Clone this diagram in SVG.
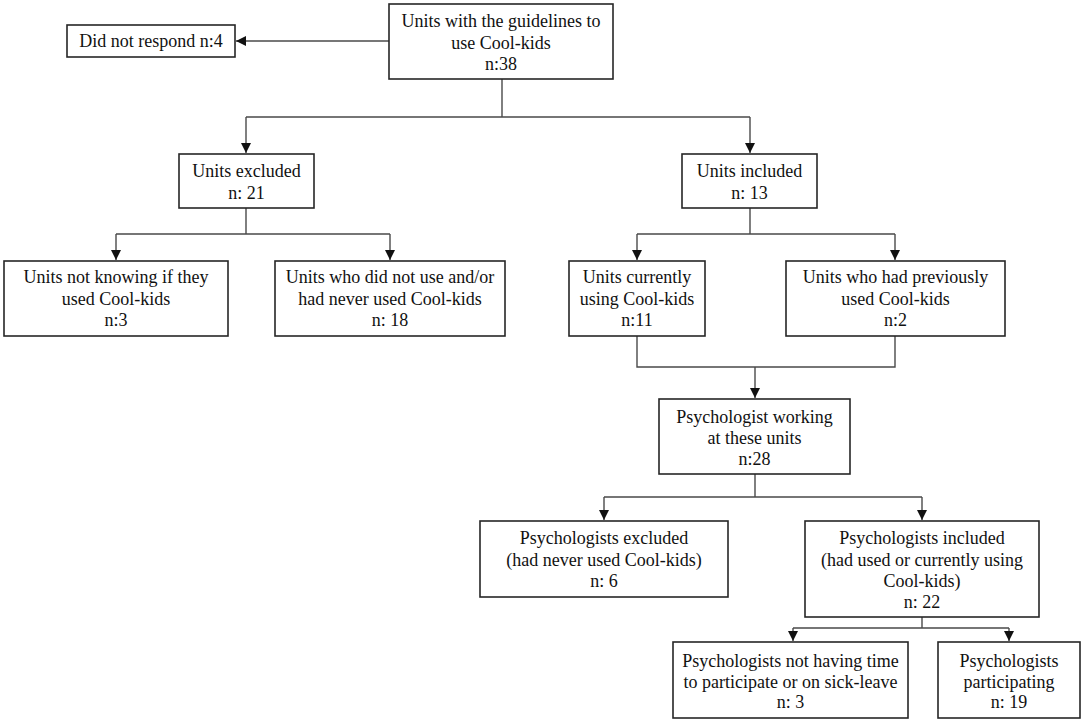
<svg xmlns="http://www.w3.org/2000/svg" width="1084" height="723" viewBox="0 0 1084 723">
<style>
.box{fill:#fff;stroke:#262626;stroke-width:1.6}
.t{font-family:'Liberation Serif','Times New Roman',Times,'DejaVu Serif',serif;font-size:18px;fill:#111;text-anchor:middle}
.c{fill:none;stroke:#4a4a4a;stroke-width:1.4}
</style>
<defs>
<marker id="ah" markerUnits="userSpaceOnUse" markerWidth="10" markerHeight="12" refX="10" refY="5" orient="auto">
<path d="M0,0 L10,5 L0,10 Z" fill="#111"/>
</marker>
</defs>
<rect width="1084" height="723" fill="#fff"/>
<g id="connectors">
<path class="c" d="M389,41 H236" marker-end="url(#ah)"/>
<path class="c" d="M502,79 V117 M246,117 H750"/>
<path class="c" d="M246,117 V153" marker-end="url(#ah)"/>
<path class="c" d="M750,117 V153" marker-end="url(#ah)"/>
<path class="c" d="M246,208 V234 M116,234 H390"/>
<path class="c" d="M116,234 V260" marker-end="url(#ah)"/>
<path class="c" d="M390,234 V260" marker-end="url(#ah)"/>
<path class="c" d="M750,208 V234 M637,234 H895"/>
<path class="c" d="M637,234 V260" marker-end="url(#ah)"/>
<path class="c" d="M895,234 V260" marker-end="url(#ah)"/>
<path class="c" d="M637,336 V367 H895 V336"/>
<path class="c" d="M755,367 V398" marker-end="url(#ah)"/>
<path class="c" d="M755,474 V497 M604,497 H922"/>
<path class="c" d="M604,497 V520" marker-end="url(#ah)"/>
<path class="c" d="M922,497 V520" marker-end="url(#ah)"/>
<path class="c" d="M922,617 V628 M793,628 H1009"/>
<path class="c" d="M793,628 V641" marker-end="url(#ah)"/>
<path class="c" d="M1009,628 V641" marker-end="url(#ah)"/>
</g>
<g font-family="'Liberation Serif', 'Times New Roman', serif">
<g id="n-top"><rect class="box" x="389" y="4" width="224" height="75"/>
<text class="t" x="501" y="27">Units with the guidelines to</text>
<text class="t" x="501" y="48.5">use Cool-kids</text>
<text class="t" x="501" y="70">n:38</text></g>
<g id="n-dnr"><rect class="box" x="67" y="25" width="168" height="32"/>
<text class="t" x="151" y="47">Did not respond n:4</text></g>
<g id="n-uexcl"><rect class="box" x="179" y="154" width="135" height="54"/>
<text class="t" x="246.5" y="177">Units excluded</text>
<text class="t" x="246.5" y="199">n: 21</text></g>
<g id="n-uincl"><rect class="box" x="682" y="154" width="135" height="54"/>
<text class="t" x="749.5" y="177">Units included</text>
<text class="t" x="749.5" y="199">n: 13</text></g>
<g id="n-unk"><rect class="box" x="4" y="261" width="224" height="75"/>
<text class="t" x="116" y="283">Units not knowing if they</text>
<text class="t" x="116" y="304.5">used Cool-kids</text>
<text class="t" x="116" y="326">n:3</text></g>
<g id="n-unotuse"><rect class="box" x="275" y="261" width="230" height="75"/>
<text class="t" x="390" y="283">Units who did not use and/or</text>
<text class="t" x="390" y="304.5">had never used Cool-kids</text>
<text class="t" x="390" y="326">n: 18</text></g>
<g id="n-ucurr"><rect class="box" x="569" y="261" width="136" height="75"/>
<text class="t" x="637" y="283">Units currently</text>
<text class="t" x="637" y="304.5">using Cool-kids</text>
<text class="t" x="637" y="326">n:11</text></g>
<g id="n-uprev"><rect class="box" x="786" y="261" width="219" height="75"/>
<text class="t" x="895.5" y="283">Units who had previously</text>
<text class="t" x="895.5" y="304.5">used Cool-kids</text>
<text class="t" x="895.5" y="326">n:2</text></g>
<g id="n-pwork"><rect class="box" x="659" y="399" width="191" height="75"/>
<text class="t" x="754.5" y="423">Psychologist working</text>
<text class="t" x="754.5" y="444">at these units</text>
<text class="t" x="754.5" y="465">n:28</text></g>
<g id="n-pexcl"><rect class="box" x="480" y="521" width="248" height="76"/>
<text class="t" x="604" y="544">Psychologists excluded</text>
<text class="t" x="604" y="566">(had never used Cool-kids)</text>
<text class="t" x="604" y="587">n: 6</text></g>
<g id="n-pincl"><rect class="box" x="805" y="521" width="234" height="96"/>
<text class="t" x="922" y="544">Psychologists included</text>
<text class="t" x="922" y="566">(had used or currently using</text>
<text class="t" x="922" y="587">Cool-kids)</text>
<text class="t" x="922" y="608">n: 22</text></g>
<g id="n-pnot"><rect class="box" x="673" y="642" width="235" height="76"/>
<text class="t" x="790.5" y="667">Psychologists not having time</text>
<text class="t" x="790.5" y="688">to participate or on sick-leave</text>
<text class="t" x="790.5" y="708">n: 3</text></g>
<g id="n-ppart"><rect class="box" x="938" y="642" width="142" height="76"/>
<text class="t" x="1009" y="667">Psychologists</text>
<text class="t" x="1009" y="688">participating</text>
<text class="t" x="1009" y="708">n: 19</text></g>
</g>
</svg>
